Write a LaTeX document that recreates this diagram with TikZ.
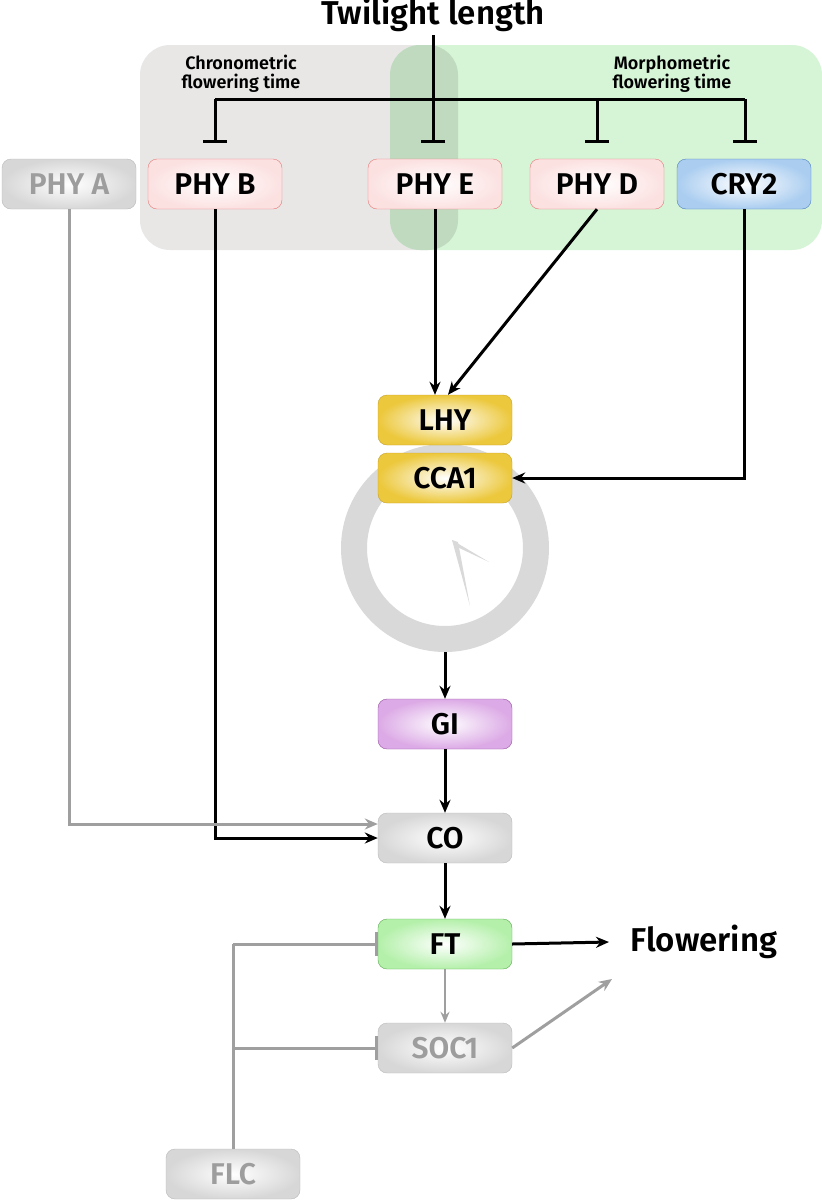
\documentclass[tikz,border=0pt]{standalone}
\usepackage{fontspec}
\setmainfont{Fira Sans}[BoldFont={Fira Sans SemiBold}]
\usetikzlibrary{arrows.meta,shapes.geometric}

\definecolor{phyred}{RGB}{232,120,120}
\definecolor{phyfill}{RGB}{252,225,225}
\definecolor{cryblue}{RGB}{80,130,190}
\definecolor{cryfill}{RGB}{170,205,240}
\definecolor{clkgold}{RGB}{200,160,40}
\definecolor{clkfill}{RGB}{236,200,60}
\definecolor{gipurple}{RGB}{150,80,160}
\definecolor{gifill}{RGB}{220,170,230}
\definecolor{ftgreen}{RGB}{90,170,80}
\definecolor{ftfill}{RGB}{180,240,170}
\definecolor{offgray}{RGB}{185,185,185}
\definecolor{offfill}{RGB}{215,215,215}
\definecolor{bggray}{RGB}{232,231,230}
\definecolor{bggreen}{RGB}{214,244,214}

\tikzset{
  gene/.style={rectangle, rounded corners=9pt, minimum width=134pt, minimum height=50pt,
    font=\fontsize{30}{32}\selectfont\bfseries, inner sep=0pt},
  phy/.style={gene, draw=phyred, inner color=white, outer color=phyfill},
  cry/.style={gene, draw=cryblue, inner color=white, outer color=cryfill},
  clk/.style={gene, draw=clkgold, inner color=white, outer color=clkfill},
  gi/.style={gene, draw=gipurple, inner color=white, outer color=gifill},
  ftbox/.style={gene, draw=ftgreen, inner color=white, outer color=ftfill},
  off/.style={gene, draw=offgray, inner color=white, outer color=offfill},
  offtxt/.style={off, text=offgray!85!black},
  act/.style={-{Stealth[length=13pt,width=11pt]}, line width=3pt},
  inh/.style={-{Bar[width=24pt]}, line width=3pt},
  grey/.style={draw=gray!75}
}

\begin{document}
\begin{tikzpicture}[x=1pt,y=-1pt]
  \useasboundingbox (0,0) rectangle (822,1200);

  % background groups
  \fill[bggray, rounded corners=30pt] (140,45) rectangle (458,250);
  \fill[bggreen, rounded corners=30pt] (390,45) rectangle (822,250);
  \fill[black!30!bggreen, opacity=0.35, rounded corners=30pt] (390,45) rectangle (458,250);

  \node[font=\fontsize{33}{34}\selectfont\bfseries] (twl) at (433,15) {Twilight length};
  \node[font=\fontsize{18}{19}\selectfont\bfseries, align=center] (chr) at (241,74) {Chronometric\\flowering time};
  \node[font=\fontsize{18}{19}\selectfont\bfseries, align=center] (mor) at (672,74) {Morphometric\\flowering time};

  % photoreceptors
  \node[offtxt] (phya) at (69,184) {PHY A};
  \node[phy] (phyb) at (215,184) {PHY B};
  \node[phy] (phye) at (435,184) {PHY E};
  \node[phy] (phyd) at (597,184) {PHY D};
  \node[cry] (cry2) at (744,184) {CRY2};

  % clock
  \draw[line width=26pt, draw=gray!30] (445,548) circle [radius=91];
  \fill[gray!30] (452,540) -- (489,562) -- (455,546) -- cycle;
  \fill[gray!30] (452,540) -- (470,606) -- (458,542) -- cycle;
  \node[clk] (lhy) at (445,420) {LHY};
  \node[clk] (cca1) at (445,478) {CCA1};
  \coordinate (clkb) at (445,652);

  \node[gi] (gi) at (445,724) {GI};
  \node[off] (co) at (445,838) {CO};
  \node[ftbox] (ft) at (445,944) {FT};
  \node[offtxt] (soc1) at (445,1048) {SOC1};
  \node[offtxt] (flc) at (233,1174) {FLC};
  \node[font=\fontsize{33}{34}\selectfont\bfseries, anchor=west] (flw) at (627,942) {Flowering};

  % twilight inhibition
  \coordinate (hb) at (215,99);
  \coordinate (hc) at (745,99);
  \draw[line width=3pt] (twl.south) -- (433,99);
  \draw[line width=3pt] (hb) -- (hc);
  \foreach \n/\x in {phyb/215,phye/433,phyd/597,cry2/745}{
    \draw[inh] (\x,99) -- (\x,143);
  }

  % signalling
  \draw[act] (phye.south) -- (lhy.north -| phye.south);
  \draw[act] (phyd.south) -- ([xshift=3pt]lhy.north);
  \draw[act] (cry2.south) |- (cca1.east);
  \draw[act] (phyb.south) |- (co.west);
  \draw[act, grey] (phya.south) |- ([yshift=14pt]co.west);
  \draw[act] (clkb) -- (gi.north);
  \draw[act] (gi) -- (co);
  \draw[act] (co) -- (ft);
  \draw[act] (ft.east) -- ([xshift=-18pt]flw.west);
  \draw[-{Stealth[length=11pt,width=9pt]}, line width=2.5pt, grey] (ft) -- (soc1);
  \draw[act, grey] (soc1.east) -- (612,979);

  % FLC repression
  \draw[line width=3pt, grey] (flc.north) -- (233,944);
  \draw[inh, grey] (233,944) -- (ft.west);
  \draw[inh, grey] (233,1048) -- (soc1.west);
\end{tikzpicture}
\end{document}
